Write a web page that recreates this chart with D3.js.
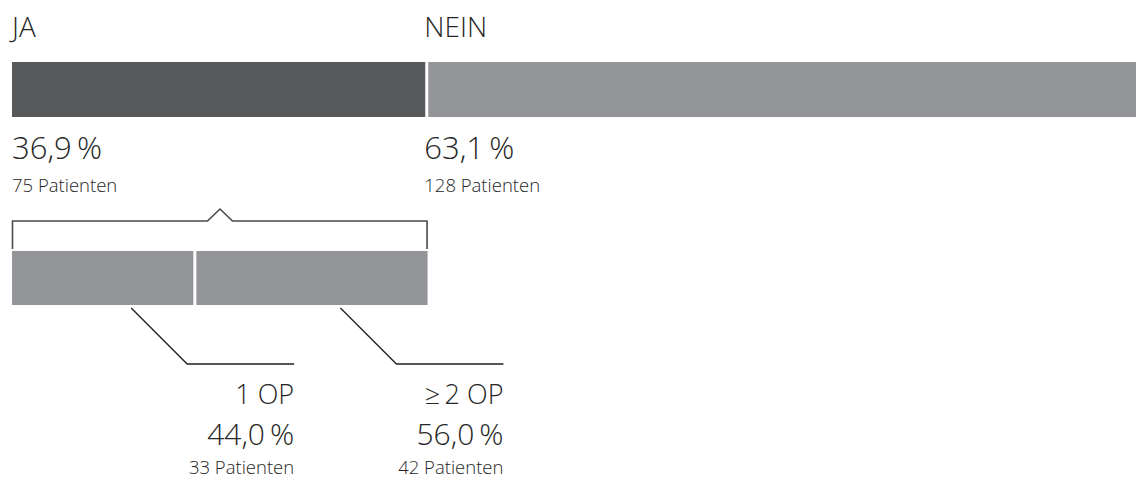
<!DOCTYPE html>
<html>
<head>
<meta charset="utf-8">
<script src="https://cdn.jsdelivr.net/npm/d3@7/dist/d3.min.js"></script>
<style>
  html, body { margin: 0; padding: 0; background: #fff; }
  svg { display: block; }
  text { font-family: "Open Sans", "Noto Sans", sans-serif; font-weight: 300; fill: #262626; }
</style>
</head>
<body>
<svg id="chart" width="1137" height="479"></svg>
<script>
const mainCategories = ["JA", "NEIN"];
const mainPercent = [36.9, 63.1];
const mainPatients = [75, 128];

const subCategories = ["1 OP", "\u2265\u20092 OP"];
const subPercent = [44.0, 56.0];
const subPatients = [33, 42];

const colorsMain = ["#58595b", "#939598"];
const colorSub = "#939598";

const de = d3.formatLocale({decimal: ",", thousands: ".", grouping: [3], currency: ["", "\u20ac"]});
const fmtPct = v => de.format(".1f")(v) + "\u2009%";

const svg = d3.select("#chart");
const gap = 3;

function stack(values) {
  let acc = 0;
  return values.map(v => { const s = acc; acc += v; return [s, acc]; });
}
function segX0(d, scale) { return scale(d.s[0]) + (d.i > 0 ? gap / 2 : 0); }
function segX1(d, scale, count) { return scale(d.s[1]) - (d.i < count - 1 ? gap / 2 : 0); }

// ---- main bar ----
const x = d3.scaleLinear().domain([0, 100]).range([12, 1136]);
const yMain = d3.scaleBand().domain(["main"]).range([62, 117]);
const mainStack = stack(mainPercent);
const mainData = mainCategories.map((c, i) => ({c, p: mainPercent[i], n: mainPatients[i], s: mainStack[i], i}));

svg.selectAll("rect.main").data(mainData).join("rect")
  .attr("class", "main")
  .attr("x", d => segX0(d, x))
  .attr("y", yMain("main"))
  .attr("width", d => segX1(d, x, mainData.length) - segX0(d, x))
  .attr("height", yMain.bandwidth())
  .attr("fill", (d, i) => colorsMain[i]);

const mainLabels = svg.selectAll("g.mainLabel").data(mainData).join("g")
  .attr("class", "mainLabel")
  .attr("transform", d => `translate(${d.i === 0 ? x(d.s[0]) : segX0(d, x) - 4},0)`);
mainLabels.append("text").attr("y", 37).attr("font-size", 28).text(d => d.c);
mainLabels.append("text").attr("y", 159).attr("font-size", 31).text(d => fmtPct(d.p));
mainLabels.append("text").attr("y", 192).attr("font-size", 18.5).text(d => d.n + " Patienten");

// ---- sub bar (breakdown of JA) ----
const xs = d3.scaleLinear().domain([0, 100]).range([x(0), x(mainPercent[0]) + 0.8]);
const ySub = d3.scaleBand().domain(["sub"]).range([251, 305]);
const subStack = stack(subPercent);
const subData = subCategories.map((c, i) => ({c, p: subPercent[i], n: subPatients[i], s: subStack[i], i}));

svg.selectAll("rect.sub").data(subData).join("rect")
  .attr("class", "sub")
  .attr("x", d => segX0(d, xs))
  .attr("y", ySub("sub"))
  .attr("width", d => segX1(d, xs, subData.length) - segX0(d, xs))
  .attr("height", ySub.bandwidth())
  .attr("fill", colorSub);

// bracket
const bL = xs(0) + 0.5, bR = xs(100) - 0.5;
const bY = 221, bBottom = 249;
const peakX = 220, peakHalf = 12.5, peakY = 209;
svg.append("path")
  .attr("d", d3.line()([
    [bL, bBottom], [bL, bY], [peakX - peakHalf, bY], [peakX, peakY],
    [peakX + peakHalf, bY], [bR, bY], [bR, bBottom]
  ]))
  .attr("fill", "none").attr("stroke", "#4a4a4a").attr("stroke-width", 1.6);

// leader lines
const cornerY = 364, startY = 308;
subData.forEach(d => {
  const x0 = segX0(d, xs), x1 = segX1(d, xs, subData.length);
  const sx = (x0 + x1) / 2 + 28.5;
  const cx = sx + (cornerY - startY);
  const ex = cx + 107;
  d.ex = ex;
  svg.append("path")
    .attr("d", d3.line()([[sx, startY], [cx, cornerY], [ex, cornerY]]))
    .attr("fill", "none").attr("stroke", "#1f1f1f").attr("stroke-width", 1.3);
});

const subLabels = svg.selectAll("g.subLabel").data(subData).join("g")
  .attr("class", "subLabel")
  .attr("transform", d => `translate(${d.ex},0)`);
subLabels.append("text").attr("y", 404).attr("font-size", 27).attr("text-anchor", "end").text(d => d.c);
subLabels.append("text").attr("y", 445).attr("font-size", 30).attr("text-anchor", "end").text(d => fmtPct(d.p));
subLabels.append("text").attr("y", 474).attr("font-size", 18.5).attr("text-anchor", "end").text(d => d.n + " Patienten");
</script>
</body>
</html>
